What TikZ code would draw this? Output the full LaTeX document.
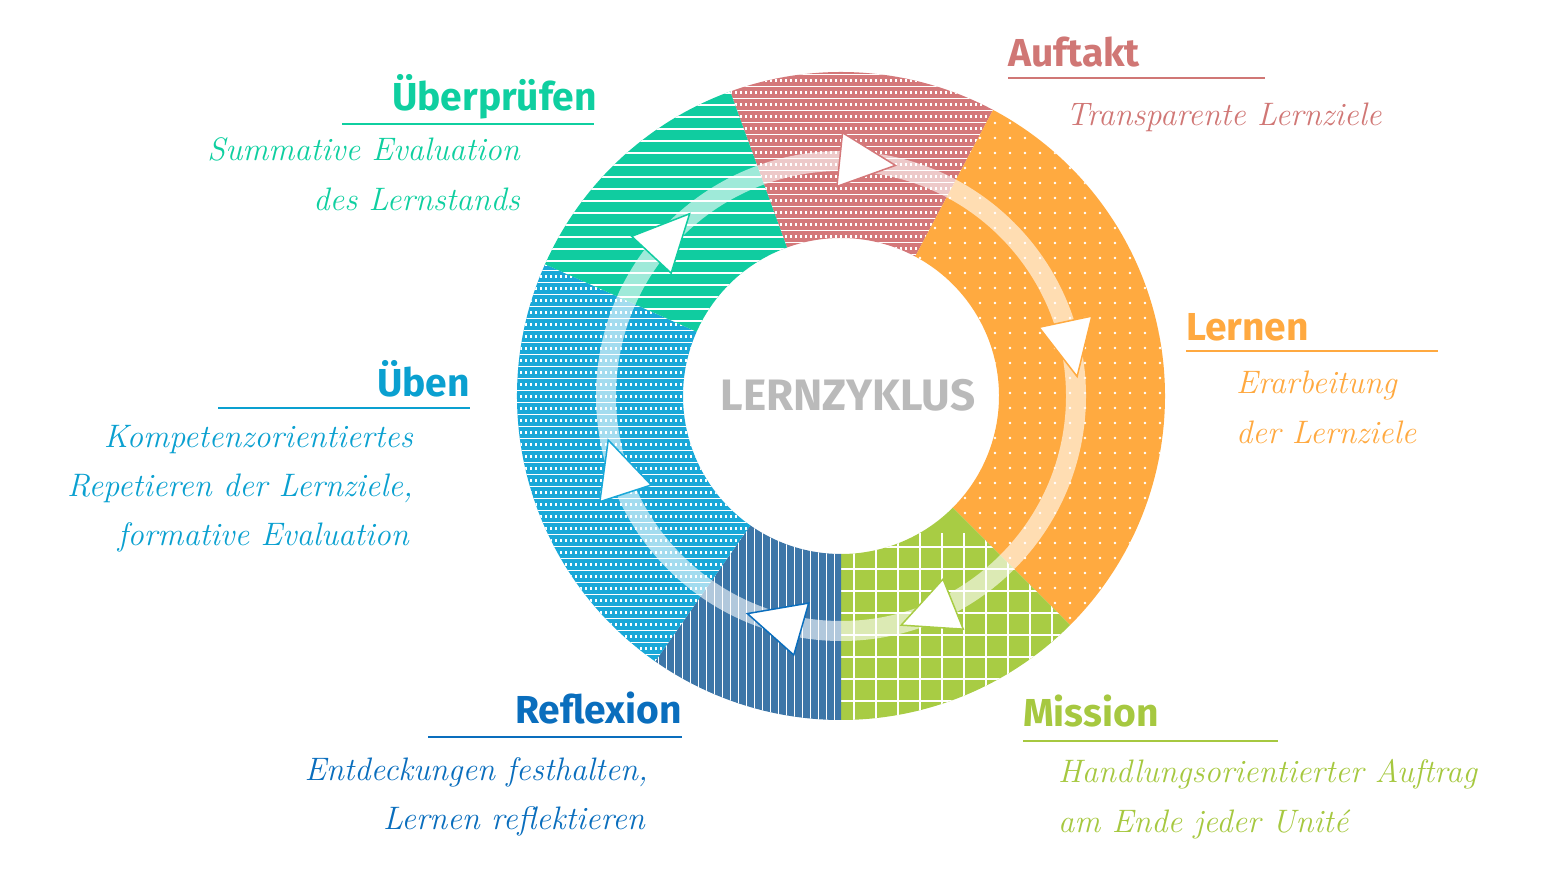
\documentclass[tikz,border=0pt]{standalone}
\usepackage{fontspec}
\setsansfont{Fira Sans}
\usetikzlibrary{calc}
\definecolor{cauf}{HTML}{D4787A}
\definecolor{cler}{HTML}{FFAA40}
\definecolor{cmis}{HTML}{A8CC44}
\definecolor{cref}{HTML}{3D76A8}
\definecolor{cueb}{HTML}{1AA8D8}
\definecolor{cuep}{HTML}{10CCA0}
\definecolor{tuep}{HTML}{0FCFA0}
\definecolor{tueb}{HTML}{0AA0D0}
\definecolor{tref}{HTML}{0A6EBD}
\definecolor{tmis}{HTML}{A6C840}
\definecolor{tler}{HTML}{FFA940}
\definecolor{tauf}{HTML}{D07775}
\tikzset{
 ttl/.style={font=\sffamily\fontsize{39}{44}\selectfont\bfseries, inner sep=0pt},
 sub/.style={font=\itshape\fontsize{32.5}{50}\selectfont, inner sep=0pt, align=#1},
 uline/.style={line width=2pt},
 tri/.style={fill=white, line width=1.5pt, line join=miter}
}
\newcommand{\segpath}[2]{(841,497)++(#1:324) arc[start angle=#1,end angle=#2,radius=324] -- ($(841,497)+(#2:158)$) arc[start angle=#2,end angle=#1,radius=158] -- cycle}
\newcommand{\arrowtri}[2]{%
 \fill[tri,draw=#2] ($(841,497)+(#1:235)+(#1-90:30)$) -- ($(841,497)+(#1:262)+(#1+90:26)$) -- ($(841,497)+(#1:208)+(#1+90:26)$) -- cycle;}
\begin{document}
\begin{tikzpicture}[x=1pt,y=1pt]
\useasboundingbox (0,0) rectangle (1560,893);
% Auftakt
\fill[cauf] \segpath{62}{110};
\begin{scope}\clip \segpath{62}{110};
\foreach \y in {560,572,...,830}{\draw[white,line width=3pt,dash pattern=on 2pt off 3pt] (700,\y)--(1000,\y);
\draw[white,line width=0.6pt] (700,\y-5)--(1000,\y-5);}
\end{scope}
% Lernen
\fill[cler] \segpath{-45}{62};
\begin{scope}\clip \segpath{-45}{62};
\foreach \x in {845,860,...,1170}{\foreach \y in {260,275,...,815}{\fill[white] (\x,\y) circle (1.3);}}
\end{scope}
% Mission
\fill[cmis] \segpath{-90}{-45};
\begin{scope}\clip \segpath{-90}{-45};
\foreach \x in {832,854,...,1080}{\draw[white,line width=1.5pt] (\x,160)--(\x,360);}
\foreach \y in {170,192,...,360}{\draw[white,line width=1.5pt] (830,\y)--(1080,\y);}
\end{scope}
% Reflexion
\fill[cref] \segpath{-125}{-90};
\begin{scope}\clip \segpath{-125}{-90};
\foreach \x in {650,658,...,845}{\draw[white,line width=1pt] (\x,160)--(\x,380);}
\end{scope}
% Üben
\fill[cueb] \segpath{156}{235};
\begin{scope}\clip \segpath{156}{235};
\foreach \y in {220,232,...,640}{\draw[white,line width=3pt,dash pattern=on 2pt off 3pt] (510,\y)--(770,\y);
\draw[white,line width=0.6pt] (510,\y-5)--(770,\y-5);}
\end{scope}
% Überprüfen
\fill[cuep] \segpath{110}{156};
\begin{scope}\clip \segpath{110}{156};
\foreach \y in {560,572,...,820}{\draw[white,line width=2pt] (520,\y)--(800,\y);}
\end{scope}
% circular arrow band
\draw[white,opacity=0.6,line width=20pt] (841,497) circle (235);
\arrowtri{84}{cauf}
\arrowtri{12}{cler}
\arrowtri{-68}{cmis}
\arrowtri{-106}{tref}
\arrowtri{198}{cueb}
\arrowtri{137}{cuep}
\node[font=\sffamily\bfseries\fontsize{44}{48}\selectfont, text=black!27] (center) at (848,498) {LERNZYKLUS};
% labels
\node[ttl,text=tauf,anchor=base west] (t1) at (1008,826) {Auftakt};
\draw[uline,tauf] (1008,815)--(1265,815);
\node[sub=left,text=tauf,anchor=base west] (s1) at (1066,767) {Transparente Lernziele};
\node[ttl,text=tuep,anchor=base east] (t2) at (597,782) {Überprüfen};
\draw[uline,tuep] (342,769)--(594,769);
\node[sub=right,text=tuep,anchor=base east] (s2) at (520,732) {Summative Evaluation};
\node[sub=right,text=tuep,anchor=base east] (s2b) at (520,682) {des Lernstands};
\node[ttl,text=tler,anchor=base west] (t3) at (1186,552) {Lernen};
\draw[uline,tler] (1186,542)--(1438,542);
\node[sub=left,text=tler,anchor=base west] (s3) at (1236,499) {Erarbeitung};
\node[sub=left,text=tler,anchor=base west] (s3b) at (1236,449) {der Lernziele};
\node[ttl,text=tueb,anchor=base east] (t4) at (470,496) {Üben};
\draw[uline,tueb] (218,485)--(470,485);
\node[sub=right,text=tueb,anchor=base east] (s4) at (413,445) {Kompetenzorientiertes};
\node[sub=right,text=tueb,anchor=base east] (s4b) at (413,396) {Repetieren der Lernziele,};
\node[sub=right,text=tueb,anchor=base east] (s4c) at (409,347) {formative Evaluation};
\node[ttl,text=tref,anchor=base east] (t5) at (682,169) {Reflexion};
\draw[uline,tref] (428,156)--(682,156);
\node[sub=right,text=tref,anchor=base east] (s5) at (648,112) {Entdeckungen festhalten,};
\node[sub=right,text=tref,anchor=base east] (s5b) at (645,63) {Lernen reflektieren};
\node[ttl,text=tmis,anchor=base west] (t6) at (1023,166) {Mission};
\draw[uline,tmis] (1023,152)--(1278,152);
\node[sub=left,text=tmis,anchor=base west] (s6) at (1058,110) {Handlungsorientierter Auftrag};
\node[sub=left,text=tmis,anchor=base west] (s6b) at (1058,60) {am Ende jeder Unité};
\end{tikzpicture}
\end{document}
